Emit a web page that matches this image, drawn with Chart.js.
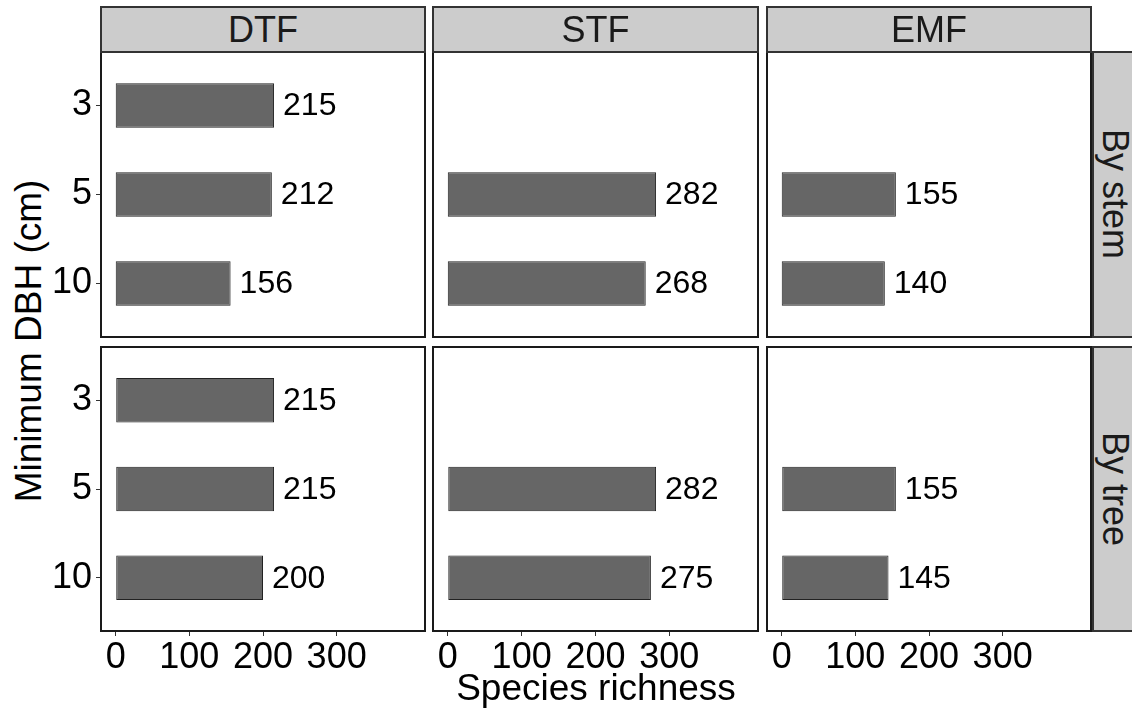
<!DOCTYPE html>
<html>
<head>
<meta charset="utf-8">
<script src="https://cdn.jsdelivr.net/npm/chart.js@4.4.1/dist/chart.umd.min.js"></script>
<style>
  body { margin: 0; background: #fff; font-family: "Liberation Sans", Arial, sans-serif; }
  #page { position: relative; width: 1132px; height: 711px; overflow: hidden; background: #fff; }
  canvas { position: absolute; }
  .strip { position: absolute; box-sizing: border-box; background: #cccccc; border: 2px solid #333;
           display: flex; align-items: center; justify-content: center; font-size: 36px; color: #1a1a1a; }
  .strip.side { writing-mode: vertical-rl; }
  .title { position: absolute; font-size: 37px; line-height: 40px; height: 40px; color: #000;
           text-align: center; white-space: nowrap; }
</style>
</head>
<body>
<div id="page"></div>
<script>
const dbhLevels = ['3', '5', '10'];
const forestTypes = ['DTF', 'STF', 'EMF'];
const countMethods = ['By stem', 'By tree'];
const xTicks = [0, 100, 200, 300];

// species richness per minimum DBH (null = no bar)
const dtfStem = [215, 212, 156];
const stfStem = [null, 282, 268];
const emfStem = [null, 155, 140];
const dtfTree = [215, 215, 200];
const stfTree = [null, 282, 275];
const emfTree = [null, 155, 145];

const panelValues = [
  [dtfStem, stfStem, emfStem],
  [dtfTree, stfTree, emfTree],
];

// panel frames in page pixels
const colEdges = [[101, 425], [433, 758], [767, 1091]];
const rowEdges = [[52, 337], [347, 631]];
const stripTop = 7;
const yAxisW = 51;
const xAxisH = 42;
const FONT = "'Liberation Sans', Arial, sans-serif";

const page = document.getElementById('page');

const frame = {
  id: 'frame',
  afterDraw(chart) {
    const a = chart.chartArea, ctx = chart.ctx;
    ctx.save();
    ctx.strokeStyle = '#1a1a1a';
    ctx.lineWidth = 2;
    ctx.strokeRect(a.left, a.top, a.right - a.left, a.bottom - a.top);
    ctx.restore();
  }
};

const valueLabels = {
  id: 'valueLabels',
  afterDatasetsDraw(chart) {
    const ctx = chart.ctx;
    ctx.save();
    ctx.font = '32px ' + FONT;
    ctx.fillStyle = '#000';
    ctx.textAlign = 'left';
    ctx.textBaseline = 'middle';
    chart.getDatasetMeta(0).data.forEach((bar, i) => {
      ctx.fillText(String(chart.data.datasets[0].data[i].x), bar.x + 9, bar.y + 1);
    });
    ctx.restore();
  }
};

function addPanel(r, c) {
  const [x0, x1] = colEdges[c];
  const [y0, y1] = rowEdges[r];
  const showY = c === 0;
  const showX = r === rowEdges.length - 1;
  const padL = showY ? yAxisW : 3;
  const padB = showX ? xAxisH : 3;

  const cv = document.createElement('canvas');
  cv.width = x1 - x0 + padL + 3;
  cv.height = y1 - y0 + 3 + padB;
  cv.style.left = (x0 - padL) + 'px';
  cv.style.top = (y0 - 3) + 'px';
  page.appendChild(cv);

  const points = [];
  panelValues[r][c].forEach((v, i) => { if (v !== null) points.push({ x: v, y: i }); });

  const xScale = {
    type: 'linear', min: -20, max: 420, bounds: 'data', offset: false, display: showX,
    afterBuildTicks: s => { s.ticks = xTicks.map(v => ({ value: v })); },
    grid: { display: true, offset: false, drawOnChartArea: false, drawTicks: true, tickLength: 5, color: '#333', lineWidth: 1 },
    border: { display: false },
    ticks: { font: { family: FONT, size: 36 }, color: '#000', padding: 0, maxRotation: 0, autoSkip: false }
  };
  if (showX) xScale.afterFit = s => { s.height = xAxisH; s.paddingLeft = 0; s.paddingRight = 0; };

  const yScale = {
    type: 'linear', min: -0.6, max: 2.6, reverse: true, bounds: 'data', offset: false, display: showY,
    afterBuildTicks: s => { s.ticks = dbhLevels.map((_, i) => ({ value: i })); },
    grid: { display: true, offset: false, drawOnChartArea: false, drawTicks: true, tickLength: 5, color: '#333', lineWidth: 1 },
    border: { display: false },
    ticks: { font: { family: FONT, size: 36 }, color: '#000', padding: 4, autoSkip: false,
             callback: v => dbhLevels[v] }
  };
  if (showY) yScale.afterFit = s => { s.width = yAxisW; s.paddingTop = 0; s.paddingBottom = 0; };

  new Chart(cv, {
    type: 'bar',
    data: {
      datasets: [{
        data: points,
        backgroundColor: '#666666',
        borderColor: '#222222',
        borderWidth: 1,
        borderSkipped: false,
        categoryPercentage: 1,
        barPercentage: 0.5
      }]
    },
    options: {
      indexAxis: 'y',
      responsive: false,
      animation: false,
      devicePixelRatio: 1,
      layout: { padding: { left: showY ? 0 : 3, top: 3, right: 3, bottom: showX ? 0 : 3 } },
      plugins: { legend: { display: false }, tooltip: { enabled: false } },
      scales: { x: xScale, y: yScale }
    },
    plugins: [frame, valueLabels]
  });
}

for (let r = 0; r < rowEdges.length; r++) {
  for (let c = 0; c < colEdges.length; c++) addPanel(r, c);
}

// facet strips
forestTypes.forEach((name, c) => {
  const d = document.createElement('div');
  d.className = 'strip';
  d.textContent = name;
  d.style.left = (colEdges[c][0] - 1) + 'px';
  d.style.top = (stripTop - 1) + 'px';
  d.style.width = (colEdges[c][1] - colEdges[c][0] + 2) + 'px';
  d.style.height = (rowEdges[0][0] - stripTop + 2) + 'px';
  page.appendChild(d);
});
countMethods.forEach((name, r) => {
  const d = document.createElement('div');
  d.className = 'strip side';
  d.textContent = name;
  d.style.left = (colEdges[2][1] + 1) + 'px';
  d.style.top = (rowEdges[r][0] - 1) + 'px';
  d.style.width = '46px';
  d.style.height = (rowEdges[r][1] - rowEdges[r][0] + 2) + 'px';
  page.appendChild(d);
});

// axis titles
const xt = document.createElement('div');
xt.className = 'title';
xt.textContent = 'Species richness';
xt.style.left = '396px';
xt.style.width = '400px';
xt.style.top = '668px';
page.appendChild(xt);

const yt = document.createElement('div');
yt.className = 'title';
yt.textContent = 'Minimum DBH (cm)';
yt.style.left = (29 - 200) + 'px';
yt.style.width = '400px';
yt.style.top = (341 - 20) + 'px';
yt.style.transform = 'rotate(-90deg)';
page.appendChild(yt);
</script>
</body>
</html>
